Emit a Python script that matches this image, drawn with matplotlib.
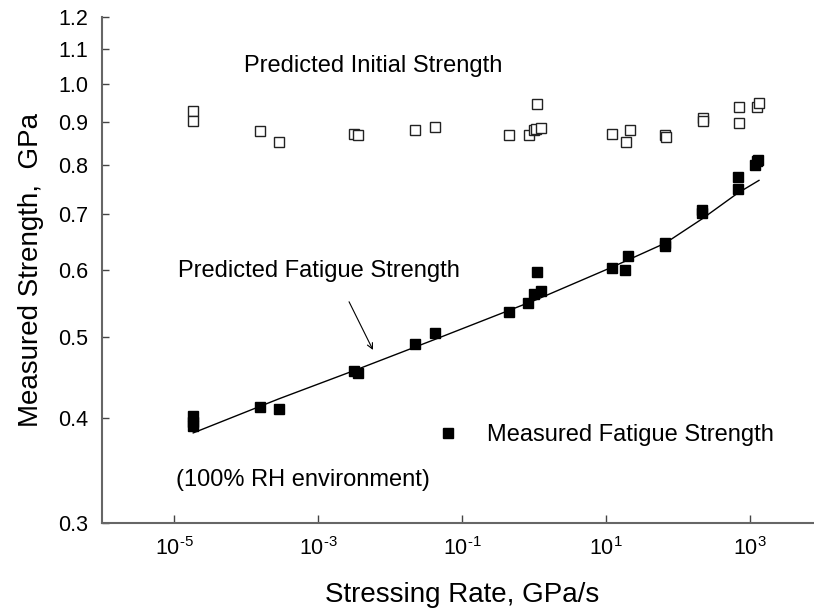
"""
Measured strength vs stressing rate (log-log), 100% RH environment
"""

import matplotlib
matplotlib.use("Agg")
import matplotlib.pyplot as plt
from matplotlib.ticker import FixedLocator, FixedFormatter, NullLocator

plt.rcParams['font.family'] = ['Liberation Sans', 'DejaVu Sans']
plt.rcParams['mathtext.fontset'] = 'custom'
plt.rcParams['mathtext.rm'] = 'Liberation Sans'

# Predicted initial strength (open squares)
init_rate = [1.84e-5, 1.84e-5, 1.55e-4, 2.87e-4, 3.19e-3, 3.56e-3, 0.0222, 0.0418,
             0.446, 0.843, 1.11, 1.0, 1.07, 1.26, 12.2, 21.3, 18.8, 65.9, 68.0,
             220, 220, 703, 703, 1239, 1334]
init_strength = [0.928, 0.903, 0.879, 0.853, 0.871, 0.868, 0.881, 0.889,
                 0.868, 0.869, 0.945, 0.881, 0.883, 0.886, 0.872, 0.880, 0.851, 0.869, 0.864,
                 0.910, 0.902, 0.937, 0.897, 0.939, 0.948]

# Measured fatigue strength (filled squares)
fat_rate = [1.84e-5, 1.84e-5, 1.84e-5, 1.55e-4, 2.87e-4, 3.2e-3, 3.6e-3, 0.0222, 0.0418,
            0.446, 0.826, 1.0, 1.26, 1.09, 12.0, 18.6, 20.5, 65.3, 65.3, 215, 215,
            681, 681, 1178, 1239, 1280]
fat_strength = [0.402, 0.396, 0.391, 0.4125, 0.410, 0.455, 0.453, 0.490, 0.505,
                0.535, 0.5475, 0.562, 0.567, 0.596, 0.604, 0.600, 0.623, 0.641, 0.646, 0.702, 0.708,
                0.774, 0.749, 0.800, 0.808, 0.812]

# Predicted fatigue strength curve
curve_rate = [1.85e-5, 2.87e-4, 3.28e-3, 0.0418, 1.07, 12.3, 67, 215, 681, 1334]
curve_strength = [0.384, 0.4216, 0.456, 0.496, 0.553, 0.605, 0.646, 0.690, 0.741, 0.767]

y_ticks = [0.3, 0.4, 0.5, 0.6, 0.7, 0.8, 0.9, 1.0, 1.1, 1.2]
x_ticks = [1e-5, 1e-3, 1e-1, 1e1, 1e3]
x_tick_labels = [r'$\mathregular{10^{\text{-}5}}$', r'$\mathregular{10^{\text{-}3}}$',
                 r'$\mathregular{10^{\text{-}1}}$', r'$\mathregular{10^{1}}$',
                 r'$\mathregular{10^{3}}$']

fig = plt.figure(figsize=(8.14, 6.14), dpi=100)
ax = fig.add_axes([0.1253, 0.1482, 0.8845, 0.8241])

ax.plot(init_rate, init_strength, linestyle='none', marker='s', markersize=7.7,
        markerfacecolor='white', markeredgecolor='#222222', markeredgewidth=1.0)
ax.plot(fat_rate, fat_strength, linestyle='none', marker='s', markersize=7.7,
        color='black', label='Measured Fatigue Strength')
ax.plot(curve_rate, curve_strength, color='black', linewidth=1.0)

ax.set_xscale('log')
ax.set_yscale('log')
ax.set_xlim(1e-6, 1e4)
ax.set_ylim(0.3, 1.2)

ax.yaxis.set_major_locator(FixedLocator(y_ticks))
ax.yaxis.set_major_formatter(FixedFormatter([f'{v:.1f}' for v in y_ticks]))
ax.yaxis.set_minor_locator(NullLocator())
ax.xaxis.set_major_locator(FixedLocator(x_ticks))
ax.xaxis.set_major_formatter(FixedFormatter(x_tick_labels))
ax.xaxis.set_minor_locator(NullLocator())

for side in ['top', 'right']:
    ax.spines[side].set_visible(False)
for side in ['left', 'bottom']:
    ax.spines[side].set_color('#666666')
    ax.spines[side].set_linewidth(1.5)

ax.tick_params(axis='y', direction='in', length=5, width=1, color='#444444',
               labelsize=15.5, pad=10)
ax.tick_params(axis='x', direction='in', length=6, width=1, color='#444444',
               labelsize=15.5, pad=10)

ax.set_xlabel('Stressing Rate, GPa/s', fontsize=20, labelpad=16)
ax.set_ylabel('Measured Strength,  GPa', fontsize=20, labelpad=10)

ax.text(9.4e-5, 1.048, 'Predicted Initial Strength', fontsize=17, va='center', ha='left')
ax.text(1.14e-5, 0.598, 'Predicted Fatigue Strength', fontsize=17, va='center', ha='left')
ax.text(1.07e-5, 0.3376, '(100% RH environment)', fontsize=17, va='center', ha='left')
ax.annotate('', xy=(5.8e-3, 0.482), xytext=(2.7e-3, 0.550),
            arrowprops=dict(arrowstyle='->', color='black', linewidth=0.8,
                            shrinkA=0, shrinkB=0))

ax.legend(loc='center left', bbox_to_anchor=(0.464, 0.174), frameon=False,
          numpoints=1, fontsize=17, handlelength=1.0, handletextpad=1.17,
          borderpad=0, borderaxespad=0)

plt.savefig('out.png', dpi=100)
